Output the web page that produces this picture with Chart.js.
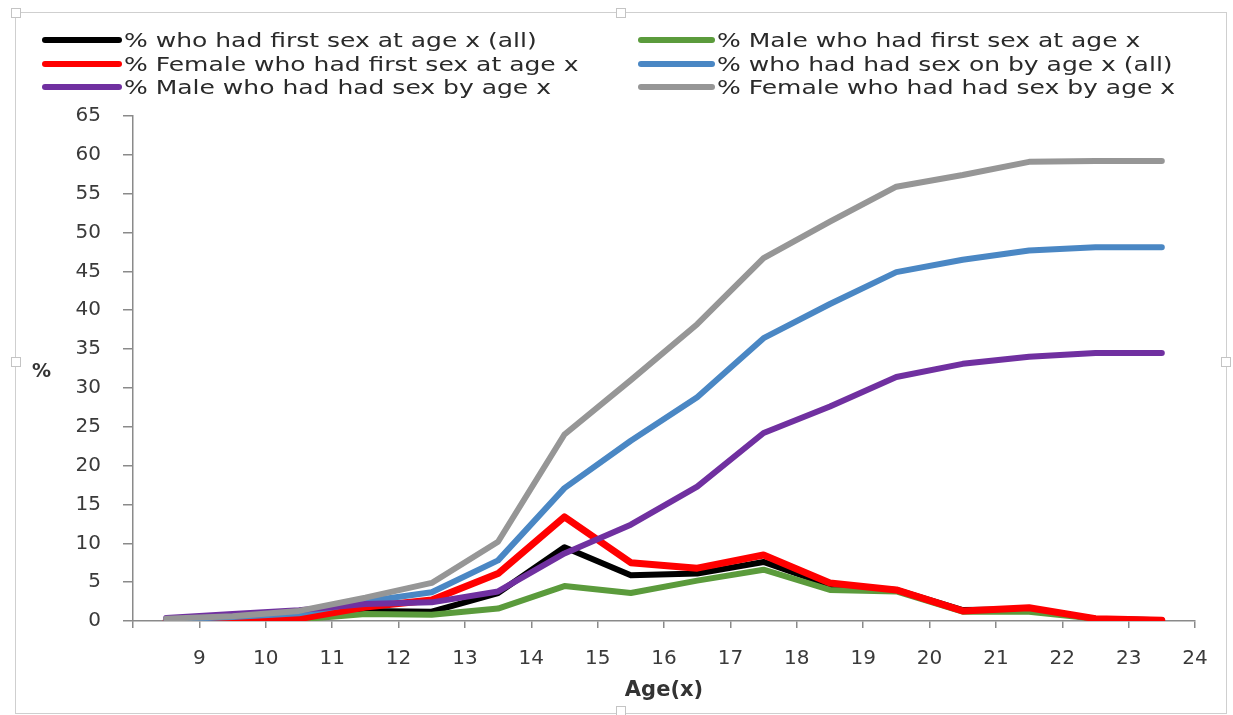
<!DOCTYPE html>
<html lang="en">
<head>
    <title>First sex by age</title>
    <meta charset="utf-8" />
    <script src="https://cdn.jsdelivr.net/npm/chart.js@4.4.1/dist/chart.umd.min.js"></script>
    <style>
        body { margin: 0; background: #fff; font-family: "DejaVu Sans", sans-serif; }
        #wrap { position: relative; width: 1233px; height: 715px; overflow: hidden; }
        #frame { position: absolute; left: 15px; top: 12px; width: 1210px; height: 700px; border: 1px solid #cfcfcf; }
        .handle { position: absolute; width: 8px; height: 8px; background: #fff; border: 1px solid #c4c4c4; }
        #legend { position: absolute; left: 0; top: 0; }
        .item { position: absolute; height: 24px; }
        .item .swatch { position: absolute; top: 9px; height: 6px; border-radius: 3px; }
        .item span { position: absolute; top: 0; white-space: nowrap; font-size: 20px; line-height: 24px;
                     color: #2a2a2a; transform: scaleX(1.25); transform-origin: left center; }
        #ylab { position: absolute; left: 32px; top: 359px; font-size: 19px; font-weight: bold; color: #333; }
        canvas { position: absolute; left: 0; top: 0; }
    </style>
</head>
<body>
<div id="wrap">
    <div id="frame"></div>
    <div class="handle" style="left:11px;top:8px"></div>
    <div class="handle" style="left:616px;top:8px"></div>
    <div class="handle" style="left:11px;top:357px"></div>
    <div class="handle" style="left:1221px;top:357px"></div>
    <div class="handle" style="left:616px;top:706px"></div>
    <canvas id="line-chart" width="1233" height="715"></canvas>
    <div id="legend"></div>
    <div id="ylab">%</div>
</div>
<script>
// ages are plotted half way through each year of age
var agePoints = [8.5, 9.5, 10.5, 11.5, 12.5, 13.5, 14.5, 15.5, 16.5, 17.5, 18.5, 19.5, 20.5, 21.5, 22.5, 23.5];

var firstAll    = [0.1, 0.2, 0.3, 1.3, 1.2, 3.6, 9.5, 5.9, 6.1, 7.6, 4.6, 4.0, 1.4, 1.5, 0.3, 0.1];
var firstMale   = [0.0, 0.1, 0.2, 0.9, 0.8, 1.6, 4.5, 3.6, 5.2, 6.6, 4.0, 3.8, 1.2, 1.2, 0.3, 0.0];
var firstFemale = [0.0, 0.0, 0.3, 1.8, 2.7, 6.1, 13.4, 7.5, 6.8, 8.5, 4.9, 4.0, 1.3, 1.7, 0.3, 0.1];
var byAll       = [0.2, 0.5, 1.0, 2.5, 3.7, 7.8, 17.1, 23.2, 28.8, 36.4, 40.8, 44.9, 46.5, 47.7, 48.1, 48.1];
var byMale      = [0.4, 0.9, 1.4, 2.2, 2.4, 3.8, 8.7, 12.4, 17.3, 24.2, 27.6, 31.4, 33.1, 34.0, 34.5, 34.5];
var byFemale    = [0.3, 0.6, 1.3, 3.0, 4.9, 10.2, 24.0, 31.0, 38.2, 46.7, 51.4, 55.9, 57.4, 59.1, 59.2, 59.2];

var seriesNames = [
    "% who had first sex at age x (all)",
    "% Male who had first sex at age x",
    "% Female who had first sex at age x",
    "% who had had sex on by age x (all)",
    "% Male who had had sex by age x",
    "% Female who had had sex by age x"
];
var seriesValues = [firstAll, firstMale, firstFemale, byAll, byMale, byFemale];
var seriesColors = ["#000000", "#5b9b3c", "#ff0000", "#4a87c4", "#7030a0", "#969696"];

var yMin = 0, yMax = 65, yStep = 5;
var xMin = 8, xMax = 24;

function toPoints(vals) {
    var pts = [];
    for (var i = 0; i < vals.length; i++) {
        pts.push({ x: agePoints[i], y: vals[i] });
    }
    return pts;
}

var datasets = [];
for (var k = 0; k < seriesNames.length; k++) {
    datasets.push({
        label: seriesNames[k],
        data: toPoints(seriesValues[k]),
        borderColor: seriesColors[k],
        backgroundColor: seriesColors[k],
        borderWidth: seriesColors[k] == "#ff0000" ? 7 : 6,
        borderCapStyle: "round",
        borderJoinStyle: "round",
        pointRadius: 0,
        tension: 0,
        order: seriesNames.length - k   // later series drawn on top, like Excel
    });
}

var tickFont = { family: "DejaVu Sans", size: 20 };
var axisColor = "#8a8a8a";

new Chart(document.getElementById("line-chart"), {
    type: "line",
    data: { datasets: datasets },
    options: {
        responsive: false,
        animation: false,
        devicePixelRatio: 1,
        layout: { padding: { top: 116, left: 0, right: 38, bottom: 8 } },
        plugins: { legend: { display: false }, tooltip: { enabled: false } },
        scales: {
            x: {
                type: "linear",
                min: xMin,
                max: xMax,
                afterFit: function (s) { s.height = 86; },
                ticks: {
                    stepSize: 1,
                    autoSkip: false,
                    maxRotation: 0,
                    padding: 19,
                    color: "#3a3a3a",
                    font: tickFont,
                    callback: function (v) { return v == xMin ? "" : v; }
                },
                grid: { display: true, drawOnChartArea: false, drawTicks: true, tickLength: 7, color: axisColor, lineWidth: 1.5 },
                border: { display: true, color: axisColor, width: 1.5 },
                title: {
                    display: true,
                    text: "Age(x)",
                    color: "#333",
                    font: { family: "DejaVu Sans", size: 21, weight: "bold" },
                    padding: { top: 0, bottom: 4 }
                }
            },
            y: {
                min: yMin,
                max: yMax,
                afterFit: function (s) { s.width = 133; },
                ticks: { stepSize: yStep, padding: 22, color: "#3a3a3a", font: tickFont },
                grid: { display: true, drawOnChartArea: false, drawTicks: true, tickLength: 10, color: axisColor, lineWidth: 1.5 },
                border: { display: true, color: axisColor, width: 1.5 }
            }
        }
    }
});

// two column legend, filled row by row
var legend = document.getElementById("legend");
var colX = [42, 638];
var rowY = [28, 51.5, 75];
for (var j = 0; j < seriesNames.length; j++) {
    var col = j % 2, row = Math.floor(j / 2);
    var item = document.createElement("div");
    item.className = "item";
    item.style.left = colX[col] + "px";
    item.style.top = rowY[row] + "px";
    var sw = document.createElement("div");
    sw.className = "swatch";
    sw.style.left = "0px";
    sw.style.width = (col == 0 ? 80 : 77) + "px";
    sw.style.background = seriesColors[j];
    var txt = document.createElement("span");
    txt.style.left = (col == 0 ? 82 : 79) + "px";
    txt.textContent = seriesNames[j];
    item.appendChild(sw);
    item.appendChild(txt);
    legend.appendChild(item);
}
</script>
</body>
</html>
